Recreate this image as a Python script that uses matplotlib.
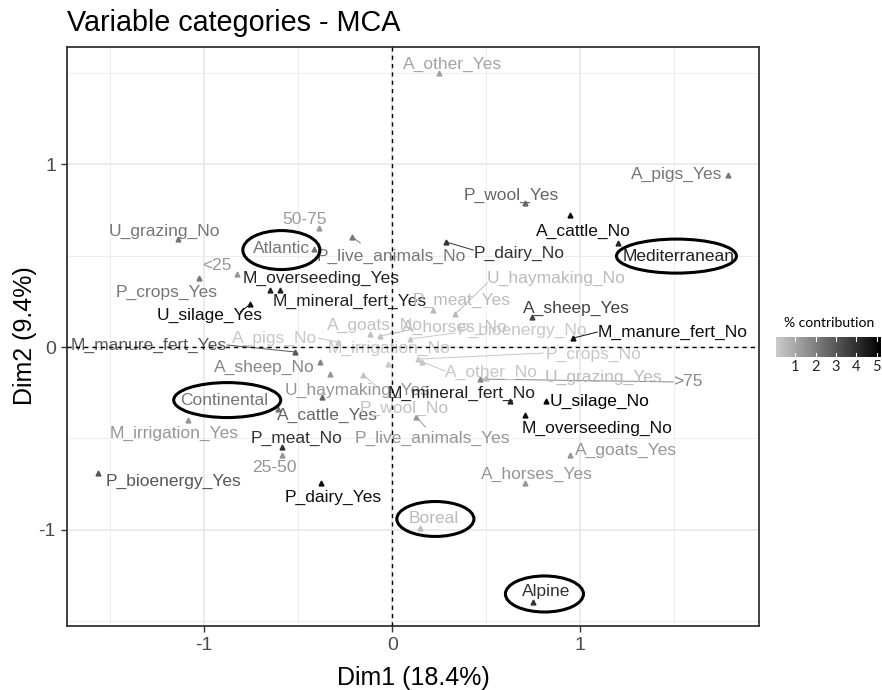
import matplotlib
matplotlib.use("Agg")
import matplotlib.pyplot as plt
import numpy as np
from matplotlib.patches import Ellipse
from matplotlib.colors import LinearSegmentedColormap, Normalize

plt.rcParams['font.family'] = ['Liberation Sans', 'DejaVu Sans']

# ---------------- data ----------------
categories = [
    "A_other_Yes", "A_pigs_Yes", "P_wool_Yes", "A_cattle_No", "Mediterranean",
    "P_dairy_No", "P_live_animals_No", "50-75", "U_grazing_No", "Atlantic",
    "<25", "M_overseeding_Yes", "P_crops_Yes", "U_silage_Yes", "M_mineral_fert_Yes",
    "U_haymaking_No", "P_meat_Yes", "A_sheep_Yes", "A_goats_No", "A_horses_No",
    "P_bioenergy_No", "M_manure_fert_No", "M_manure_fert_Yes", "A_pigs_No", "M_irrigation_No",
    "A_sheep_No", "P_crops_No", "A_other_No", "U_grazing_Yes", ">75",
    "U_haymaking_Yes", "Continental", "M_mineral_fert_No", "U_silage_No", "A_cattle_Yes",
    "P_wool_No", "M_irrigation_Yes", "P_meat_No", "P_live_animals_Yes", "M_overseeding_No",
    "A_goats_Yes", "25-50", "P_bioenergy_Yes", "A_horses_Yes", "P_dairy_Yes",
    "Boreal", "Alpine",
]
dim1 = [
    0.250, 1.787, 0.707, 0.947, 1.202,
    0.287, -0.213, -0.388, -1.138, -0.415,
    -0.824, -0.649, -1.027, -0.755, -0.596,
    0.335, 0.218, 0.745, -0.117, -0.064,
    0.096, 0.963, -0.516, -0.287, -0.021,
    -0.383, 0.138, 0.160, 0.500, 0.468,
    -0.330, -0.606, 0.628, 0.819, -0.372,
    -0.154, -1.085, -0.585, 0.128, 0.707,
    0.947, -0.585, -1.564, 0.707, -0.378,
    0.149, 0.750,
]
dim2 = [
    1.497, 0.940, 0.787, 0.721, 0.568,
    0.574, 0.601, 0.650, 0.590, 0.536,
    0.399, 0.311, 0.377, 0.235, 0.311,
    0.180, 0.202, 0.164, 0.071, 0.060,
    0.044, 0.049, -0.027, 0.027, -0.093,
    -0.082, -0.066, -0.082, -0.169, -0.175,
    -0.148, -0.339, -0.295, -0.295, -0.273,
    -0.153, -0.399, -0.546, -0.383, -0.372,
    -0.590, -0.590, -0.689, -0.743, -0.743,
    -0.989, -1.393,
]
contrib = [
    1.1, 2.2, 2.6, 4.8, 4.3,
    3.9, 2.2, 1.3, 2.2, 2.2,
    1.4, 4.3, 2.2, 4.8, 4.3,
    0.5, 0.5, 3.5, 0.35, 0.35,
    0.2, 4.8, 3.0, 0.2, 0.2,
    1.8, 0.2, 0.2, 0.5, 1.8,
    1.4, 2.2, 4.3, 5.1, 2.6,
    0.35, 1.4, 3.9, 1.4, 4.8,
    1.4, 1.4, 3.0, 1.4, 4.8,
    0.5, 3.9,
]
contrib_ticks = [1, 2, 3, 4, 5]
x_ticks = [-1, 0, 1]
y_ticks = [-1, 0, 1]

# ---------------- layout (label placement, as repelled) ----------------
label_x = [
    0.319, 1.511, 0.633, 1.016, 1.521,
    0.676, -0.005, -0.468, -1.213, -0.590,
    -0.931, -0.378, -1.202, -0.973, -0.229,
    0.872, 0.367, 0.979, -0.090, 0.335,
    0.691, 1.489, -1.298, -0.628, -0.016,
    -0.681, 1.069, 0.527, 1.122, 1.574,
    -0.186, -0.894, 0.367, 1.101, -0.346,
    0.064, -1.160, -0.511, 0.213, 1.090,
    1.245, -0.628, -1.165, 0.771, -0.314,
    0.218, 0.819,
]
label_y = [
    1.546, 0.945, 0.831, 0.634, 0.497,
    0.514, 0.497, 0.699, 0.634, 0.536,
    0.443, 0.377, 0.301, 0.175, 0.251,
    0.377, 0.257, 0.213, 0.120, 0.109,
    0.093, 0.082, 0.011, 0.049, -0.005,
    -0.109, -0.038, -0.137, -0.164, -0.186,
    -0.235, -0.295, -0.251, -0.295, -0.372,
    -0.333, -0.475, -0.497, -0.497, -0.443,
    -0.568, -0.661, -0.732, -0.694, -0.820,
    -0.940, -1.339,
]
segment_ends = {
    "P_dairy_No": (0.431, 0.530),
    "P_live_animals_No": (-0.170, 0.568),
    "U_silage_Yes": (-0.809, 0.191),
    "U_haymaking_No": (0.505, 0.350),
    "M_manure_fert_No": (1.090, 0.082),
    "M_manure_fert_Yes": (-0.878, 0.011),
    "P_crops_No": (0.803, -0.033),
    "A_other_No": (0.282, -0.131),
    ">75": (1.495, -0.191),
    "P_wool_No": (-0.080, -0.219),
    "P_live_animals_Yes": (0.176, -0.437),
    "P_bioenergy_No": (0.335, 0.077),
    "A_horses_No": (0.112, 0.098),
    "A_pigs_No": (-0.394, 0.049),
}
ellipses = [  # (center x, center y, width, height)
    (-0.590, 0.530, 0.410, 0.213),
    (1.511, 0.497, 0.638, 0.186),
    (-0.878, -0.290, 0.569, 0.191),
    (0.229, -0.940, 0.410, 0.191),
    (0.809, -1.350, 0.415, 0.197),
]

cmap = LinearSegmentedColormap.from_list("contrib", ["#cccccc", "#000000"])
norm = Normalize(0.07, 5.15)

fig = plt.figure(figsize=(8.82, 6.9), dpi=100)
ax = fig.add_axes([67 / 882, 1 - 626 / 690, (759 - 67) / 882, (626 - 47) / 690])
ax.set_xlim(-1.73, 1.95)
ax.set_ylim(-1.525, 1.64)

# grid
for v in [-1.5, -0.5, 0.5, 1.5]:
    ax.axvline(v, color="#ebebeb", lw=0.6, zorder=0)
    ax.axhline(v, color="#ebebeb", lw=0.6, zorder=0)
for v in [-1, 0, 1]:
    ax.axvline(v, color="#e5e5e5", lw=1.1, zorder=0)
    ax.axhline(v, color="#e5e5e5", lw=1.1, zorder=0)

colors = [cmap(norm(c)) for c in contrib]

for i, name in enumerate(categories):
    col = colors[i]
    if name in segment_ends:
        ex, ey = segment_ends[name]
        ax.plot([dim1[i], ex], [dim2[i], ey], color=col, lw=0.7, zorder=2)
    ax.plot(dim1[i], dim2[i], marker="^", ms=3.5, color=col, ls="none", zorder=3)
    ax.text(label_x[i], label_y[i], name, color=col, fontsize=12.5,
            ha="center", va="center", zorder=4)

ax.axvline(0, color="black", lw=1.0, ls=(0, (3, 3)), zorder=5)
ax.axhline(0, color="black", lw=1.0, ls=(0, (3, 3)), zorder=5)

for cx, cy, w, h in ellipses:
    ax.add_patch(Ellipse((cx, cy), w, h, fill=False, ec="black", lw=2.2, zorder=10))

ax.set_xticks(x_ticks)
ax.set_yticks(y_ticks)
ax.set_xticklabels([str(t) for t in x_ticks])
ax.set_yticklabels([str(t) for t in y_ticks])
ax.tick_params(length=4, width=1, color="#333333", labelsize=14,
               labelcolor="#4d4d4d", pad=4)
for s in ax.spines.values():
    s.set_color("#333333")
    s.set_linewidth(1.3)

fig.text(67 / 882, 1 - 31 / 690, "Variable categories - MCA", fontsize=20.7,
         ha="left", va="baseline")
fig.text(413 / 882, 1 - 678 / 690, "Dim1 (18.4%)", fontsize=18,
         ha="center", va="center")
fig.text(25 / 882, 1 - 336 / 690, "Dim2 (9.4%)", fontsize=18,
         ha="center", va="center", rotation=90)

# colour bar legend
cax = fig.add_axes([776 / 882, 1 - 357 / 690, 104 / 882, 20 / 690])
grad = np.linspace(norm.vmin, norm.vmax, 256)[None, :]
cax.imshow(grad, cmap=cmap, norm=norm, aspect="auto",
           extent=[norm.vmin, norm.vmax, 0, 1])
for t in contrib_ticks:
    cax.plot([t, t], [0, 0.2], color="white", lw=0.8)
    cax.plot([t, t], [0.8, 1], color="white", lw=0.8)
cax.set_xlim(norm.vmin, norm.vmax)
cax.set_ylim(0, 1)
cax.set_yticks([])
cax.set_xticks(contrib_ticks)
cax.set_xticklabels([str(t) for t in contrib_ticks], family=["Lato", "DejaVu Sans"])
cax.tick_params(length=0, labelsize=10.5, pad=2, labelcolor="#222222")
for s in cax.spines.values():
    s.set_visible(False)
fig.text(829 / 882, 1 - 323 / 690, "% contribution", fontsize=10,
         ha="center", va="center", family=["Lato", "DejaVu Sans"])

fig.savefig("out.png", dpi=100)
